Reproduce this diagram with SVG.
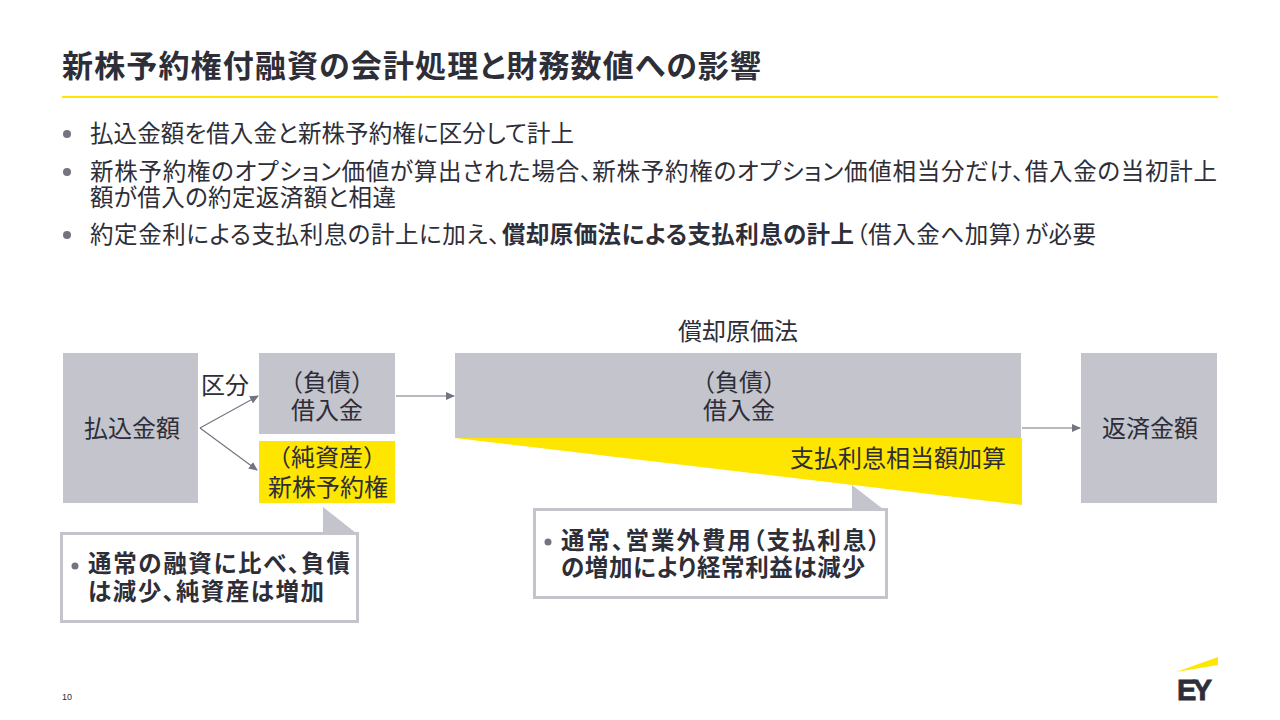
<svg xmlns="http://www.w3.org/2000/svg" width="1280" height="720" viewBox="0 0 1280 720">
<style>
text{font-family:"Noto Sans CJK JP","Liberation Sans",sans-serif;fill:#2e2e38}
.t{font-size:23.500px;font-feature-settings:"palt"}
.c{font-size:24px;text-anchor:middle}
.b{font-size:23.500px;font-weight:700;font-feature-settings:"palt"}
.g{fill:#c4c4cd}
.y{fill:#ffe600}
.call{fill:#fff;stroke:#c4c4cd;stroke-width:3}
.dot{fill:#747480}
.a{fill:none;stroke:#747480;stroke-width:1.2;marker-end:url(#ah)}
.ey{font-family:"Liberation Sans",sans-serif}
</style>
<defs><marker id="ah" markerWidth="9" markerHeight="8" refX="8" refY="4" orient="auto" markerUnits="userSpaceOnUse"><path d="M0 0L9 4L0 8Z" fill="#747480"/></marker></defs>
<rect width="1280" height="720" fill="#fff"/>
<g id="header">
<text x="62" y="77" font-size="31" font-weight="700" textLength="699" style="font-feature-settings:'palt'">新株予約権付融資の会計処理と財務数値への影響</text>
<rect x="62" y="96" width="1156" height="2" class="y"/>
</g>
<g id="bullets">
<circle cx="67" cy="134" r="4" class="dot"/>
<text class="t" x="90" y="142" textLength="484">払込金額を借入金と新株予約権に区分して計上</text>
<circle cx="67" cy="172" r="4" class="dot"/>
<text class="t" x="90" y="180" textLength="1127">新株予約権のオプション価値が算出された場合、新株予約権のオプション価値相当分だけ、借入金の当初計上</text>
<text class="t" x="90" y="206" textLength="306">額が借入の約定返済額と相違</text>
<circle cx="67" cy="235" r="4" class="dot"/>
<text class="t" x="90" y="243" textLength="410">約定金利による支払利息の計上に加え、</text>
<text class="t" x="502" y="243" textLength="352" font-weight="700">償却原価法による支払利息の計上</text>
<text class="t" x="856" y="243" textLength="240">（借入金へ加算）が必要</text>
</g>
<g id="connectors">
<path class="a" d="M200 428L258 396"/>
<path class="a" d="M200 428L257 470"/>
<path class="a" d="M396 396H454"/>
<path class="a" d="M1022 428H1080"/>
</g>
<g id="label-kubun"><text class="c" x="225" y="394">区分</text></g>
<g id="node-haraikomi"><rect x="63" y="353" width="135" height="150" class="g"/><text class="c" x="132" y="437">払込金額</text></g>
<g id="node-kariire1"><rect x="259" y="353" width="136" height="81" class="g"/><text class="c" x="327" y="391">（負債）</text><text class="c" x="327" y="419">借入金</text></g>
<g id="node-shinkabu"><rect x="259" y="441" width="136" height="62" class="y"/><text class="c" x="327" y="466">（純資産）</text><text class="c" x="328" y="496">新株予約権</text></g>
<g id="label-shokyaku"><text class="c" x="738" y="340">償却原価法</text></g>
<g id="node-kariire2"><path d="M455 438H1022V505Z" class="y"/><rect x="455" y="353" width="566" height="85" class="g"/><text class="c" x="739" y="391">（負債）</text><text class="c" x="739" y="419">借入金</text><text class="c" x="898" y="467">支払利息相当額加算</text></g>
<g id="node-hensai"><rect x="1081" y="353" width="136" height="150" class="g"/><text class="c" x="1150" y="437">返済金額</text></g>
<g id="callout-left"><rect x="61.500" y="533.500" width="296" height="88" class="call"/><path d="M323 507L356 533H323Z" class="g"/><circle cx="75" cy="566" r="3.500" class="dot"/><text class="b" x="88" y="572" textLength="262">通常の融資に比べ、負債</text><text class="b" x="88" y="600" textLength="236">は減少、純資産は増加</text></g>
<g id="callout-right"><rect x="534.500" y="509.500" width="352" height="88" class="call"/><path d="M852 485L883 509H852Z" class="g"/><circle cx="548" cy="542" r="3.500" class="dot"/><text class="b" x="561" y="549" textLength="319">通常、営業外費用（支払利息）</text><text class="b" x="561" y="576" textLength="304">の増加により経常利益は減少</text></g>
<g id="footer"><text class="ey" x="62" y="700" font-size="9">10</text>
<path d="M1176 672L1218 657V665Z" class="y"/>
<text class="ey" x="1177" y="700" font-size="29" font-weight="700" textLength="35" stroke="#2e2e38" stroke-width="0.800">EY</text></g>
</svg>
